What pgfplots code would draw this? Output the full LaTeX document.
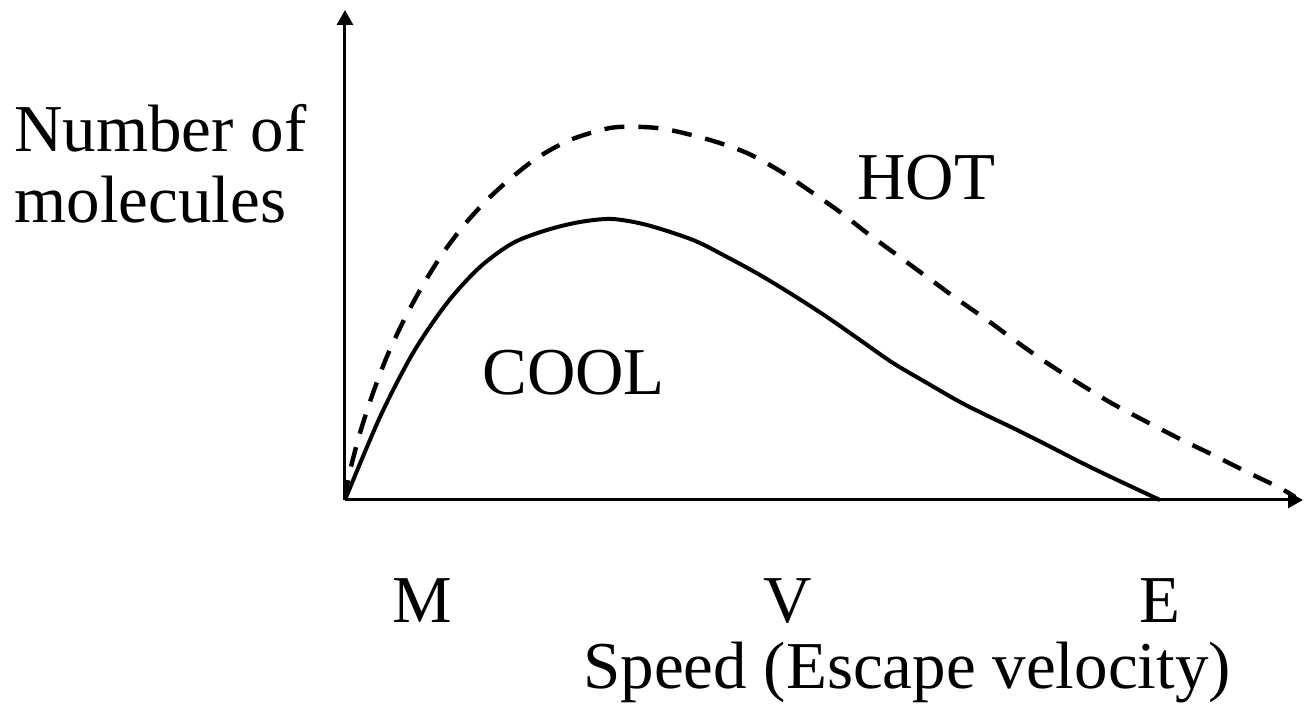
\documentclass[border=0pt]{standalone}
\usepackage{fontspec}
\setmainfont{Liberation Serif}
\usepackage{pgfplots}
\pgfplotsset{compat=1.18}
\usetikzlibrary{arrows.meta}
\begin{document}
\fontsize{33.5}{35.5}\selectfont
\begin{tikzpicture}
\begin{axis}[
  scale only axis,
  width=479pt, height=245pt,
  xmin=0, xmax=958, ymin=0, ymax=490,
  axis x line=bottom, axis y line=left,
  axis line style={line width=1.5pt, -{Triangle[length=7.5pt,width=8pt]}},
  ytick=\empty,
  xtick={77,443,815},
  xticklabels={M,V,E},
  major tick length=0pt,
  xticklabel style={anchor=base, yshift=-61.5pt, font=\fontsize{33.5}{35.5}\selectfont},
  clip=false,
]
\addplot[black, line width=2pt, smooth] coordinates {
(0,0) (35,83) (68,147) (102,197) (135,233) (168,257) (202,270) (235,278)
(267,281) (302,275) (348,260) (382,243) (415,225) (448,205)
(482,183) (515,160) (548,137) (582,117) (615,98) (645,83) (668,72)
(702,55) (735,38) (768,22) (815,0)
};
\addplot[black, line width=2.2pt, smooth, dash pattern=on 10pt off 7pt] coordinates {
(0,0) (4,25) (15,67) (28,107) (43,146) (60,182) (78,215) (98,247)
(120,276) (142,300) (165,321) (192,342) (225,360) (265,372) (298,373)
(325,370) (365,360) (402,347) (435,329) (465,309) (495,288) (522,267)
(552,245) (582,223) (612,201) (642,180) (672,158) (702,137) (735,116)
(768,96) (802,78) (835,61) (868,45) (902,28) (935,12) (950,3)
};
\node[anchor=base west, inner sep=0pt] at (axis cs:512,300) {HOT};
\node[anchor=base west, inner sep=0pt] at (axis cs:137,105) {COOL};
\node[anchor=base west, inner sep=0pt] at (axis cs:238,-188) {Speed (Escape velocity)};
\node[anchor=base west, inner sep=0pt, align=left] at (axis cs:-331,277) {Number of\\molecules};
\coordinate (bl) at (axis cs:-345,-216);
\coordinate (tr) at (axis cs:960,500);
\end{axis}
\pgfresetboundingbox
\path (bl) rectangle (tr);
\end{tikzpicture}
\end{document}
